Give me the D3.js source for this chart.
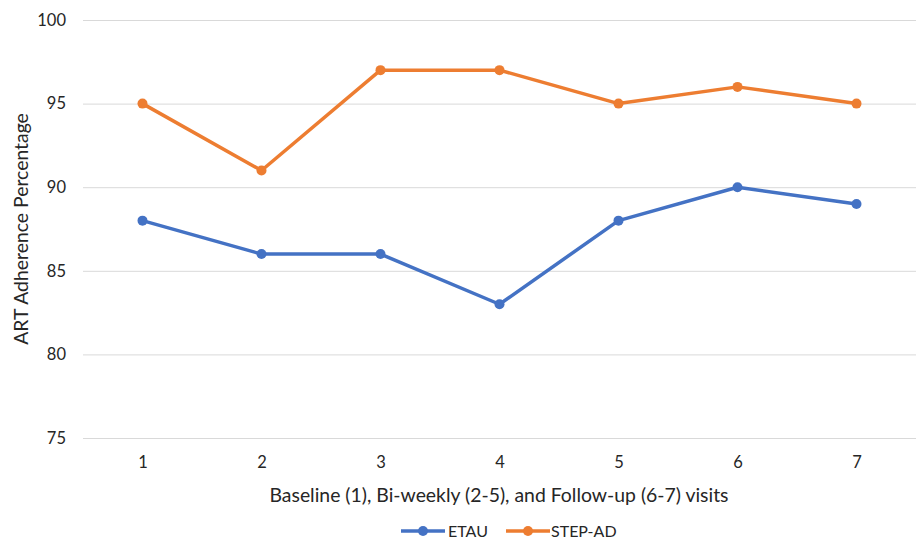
<!DOCTYPE html>
<html>
<head>
<meta charset="utf-8">
<script src="https://cdn.jsdelivr.net/npm/d3@7"></script>
<style>
  html, body { margin: 0; padding: 0; background: #fff; }
  svg text { font-family: Lato, "Open Sans", sans-serif; fill: #262626; }
</style>
</head>
<body>
<svg id="chart" width="917" height="540"></svg>
<script>
const visits = ["1", "2", "3", "4", "5", "6", "7"];
const etau = [88, 86, 86, 83, 88, 90, 89];
const stepAd = [95, 91, 97, 97, 95, 96, 95];
const yTicks = [75, 80, 85, 90, 95, 100];
const seriesNames = ["ETAU", "STEP-AD"];
const seriesColors = ["#4472C4", "#ED7D31"];

const svg = d3.select("#chart");
const plotLeft = 83, plotRight = 916, plotTop = 20, plotBottom = 438;
const textColor = "#262626";
const font = "Lato, 'Open Sans', sans-serif";

const x = d3.scalePoint().domain(visits).range([plotLeft, plotRight]).padding(0.5);
const y = d3.scaleLinear().domain([75, 100]).range([plotBottom, plotTop]);

// horizontal gridlines with value labels
svg.append("g")
  .attr("transform", `translate(${plotLeft},0)`)
  .call(d3.axisLeft(y).tickValues(yTicks).tickSize(-(plotRight - plotLeft)).tickPadding(17))
  .call(g => g.select(".domain").remove())
  .call(g => g.selectAll(".tick line").attr("stroke", "#d9d9d9").attr("stroke-width", 1))
  .call(g => g.selectAll(".tick text").attr("font-size", 16.5).attr("fill", textColor)
    .style("font-family", font));

// visit labels
svg.append("g")
  .attr("transform", `translate(0,${plotBottom})`)
  .call(d3.axisBottom(x).tickSize(0).tickPadding(18))
  .call(g => g.select(".domain").remove())
  .call(g => g.selectAll(".tick text").attr("font-size", 16.5).attr("fill", textColor)
    .style("font-family", font));

// axis titles
svg.append("text")
  .attr("x", 499).attr("y", 502)
  .attr("text-anchor", "middle").attr("font-size", 19.4)
  .text("Baseline (1), Bi-weekly (2-5), and Follow-up (6-7) visits");

svg.append("text")
  .attr("transform", `translate(28,${(plotTop + plotBottom) / 2}) rotate(-90)`)
  .attr("text-anchor", "middle").attr("font-size", 19.4)
  .text("ART Adherence Percentage");

// series lines with markers
const data = [etau, stepAd];
const line = d3.line().x((d, i) => x(visits[i])).y(d => y(d));
data.forEach((vals, si) => {
  const g = svg.append("g");
  g.append("path").datum(vals)
    .attr("d", line).attr("fill", "none")
    .attr("stroke", seriesColors[si]).attr("stroke-width", 3.5)
    .attr("stroke-linejoin", "round").attr("stroke-linecap", "round");
  g.selectAll("circle").data(vals).join("circle")
    .attr("cx", (d, i) => x(visits[i])).attr("cy", d => y(d))
    .attr("r", 5).attr("fill", seriesColors[si]);
});

// legend
const legend = svg.append("g");
const legendItems = [{ x0: 401, tx: 448 }, { x0: 506, tx: 551 }];
seriesNames.forEach((name, i) => {
  const it = legendItems[i];
  legend.append("line")
    .attr("x1", it.x0).attr("x2", it.x0 + 44).attr("y1", 531).attr("y2", 531)
    .attr("stroke", seriesColors[i]).attr("stroke-width", 3.5);
  legend.append("circle").attr("cx", it.x0 + 22).attr("cy", 531).attr("r", 5)
    .attr("fill", seriesColors[i]);
  legend.append("text").attr("x", it.tx).attr("y", 537)
    .attr("font-size", 16).text(name);
});
</script>
</body>
</html>
